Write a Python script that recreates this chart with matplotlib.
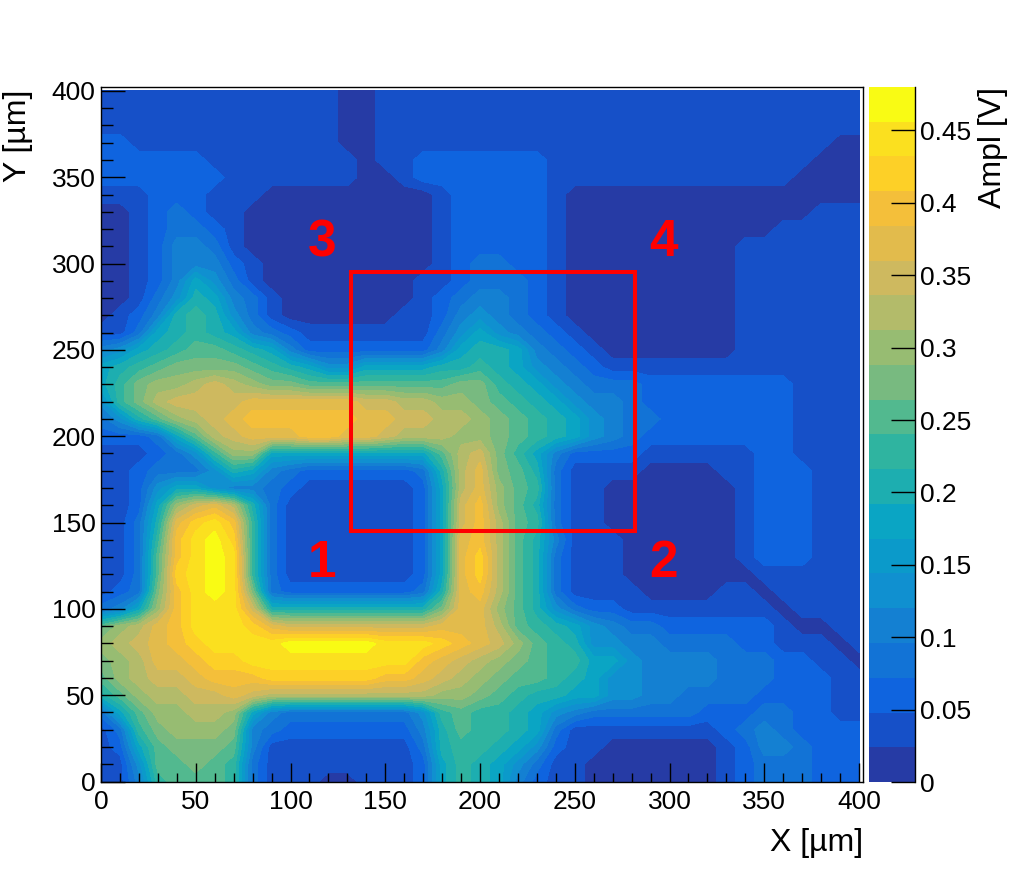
# plot.py
import numpy as np
import matplotlib

matplotlib.use("Agg")
import matplotlib.pyplot as plt
from matplotlib.patches import Rectangle

plt.rcParams["font.family"] = ["Liberation Sans", "DejaVu Sans"]

# band colours of the palette, bottom to top
BAND_COLORS = [
    "#263ba5", "#1650c8", "#0f64df", "#1273d6", "#1480d2",
    "#1090d0", "#0b9aca", "#0aa5c4", "#1daeb0", "#2fb4a0",
    "#52b98f", "#78ba80", "#97bc72", "#b3bb6a", "#ceb95f",
    "#e2bb4c", "#f4bf3a", "#fdd027", "#fbe01f", "#f9fb14",
]
BAND_WIDTH = 0.024  # V
BAND_KEYS = "0123456789abcdefghij"

x_um = list(range(0, 401, 10))
y_um = list(range(400, -1, -10))

# band at each 10 um node, rows top (400) to bottom (0)
ampl_bands = [
    "1111111111 1110011111 1111111111 1111111111 1",
    "1111111111 1110011111 1111111111 1111111111 1",
    "1111111111 1110011111 1111111111 1111111111 1",
    "2211111111 1110011111 1111111111 1111111110 0",
    "2222221111 1111011222 2222111111 1111111100 0",
    "2222222111 1111001222 2222111111 1111111000 0",
    "1112221110 0000000012 2222100000 0000000000 0",
    "0012321100 0000000012 2222100000 0000000011 1",
    "0012332100 0000000012 2222100000 0000001111 1",
    "0012443100 0000000012 2222100000 0000111111 1",
    "0012444210 0000000012 3322100000 0000111111 1",
    "0012475310 0000000112 3332100000 0000111111 1",
    "0013587431 0000000123 4432100000 0000111111 1",
    "0124898531 0000001124 5432100000 0000111111 1",
    "1137898743 2111111135 7543210000 0000111111 1",
    "45789aa987 4222222247 8874321000 0000111111 1",
    "789abbbba9 8755777788 9875432111 1111111111 1",
    "79bccdedcb baaaaaaaab b987543332 2222222111 1",
    "59bdeeeeff ffffeeddcc ba98754432 2222222111 1",
    "358acdefgg ggggffeedd cba9875433 2222222111 1",
    "22237adeff fggffedddc cba9875432 2222222111 1",
    "1112359cc7 77777777ad eb97422221 1111122111 1",
    "1123335874 322222238d fba8311110 0001122211 1",
    "1125775443 211111127d fca9311000 0000122211 1",
    "1127cefd83 111111127e gca8311000 0000122211 1",
    "1138fhig93 111111127e gda9311000 0000122211 1",
    "1139gijh93 111111127f gda8411100 0000122211 1",
    "113agiji93 111111127f hda8311100 0000122211 1",
    "113ahiji93 111111127f hda8311100 0000011111 1",
    "123bgijib3 222222238f gda8311110 0001101111 1",
    "347cgiiie8 88888888bf fca8532211 1111110111 1",
    "acdfgiiihf eeeeeeeeff fda9875433 2222221001 1",
    "cdefghiiii jjjjjiiihg feca985544 3333221110 1",
    "bcdffghhii iiiiiiigfe dcba997754 4443332211 0",
    "acdeefgggh hhhhhggfed cbaa987554 4443332221 1",
    "8acddeefed ddddddddcc ba98877554 4333322221 1",
    "37accddc74 333333359a 9987543333 3322233221 1",
    "139bcccb43 222222248a 9987311111 1112343222 2",
    "127abbba41 1111111389 9875211000 0001244322 2",
    "115aaba931 1111111279 8753110000 0001233322 2",
    "1149aaa931 1100111279 8742110000 0001233322 2",
]

cbar_ticks = [0, 0.05, 0.1, 0.15, 0.2, 0.25, 0.3, 0.35, 0.4, 0.45]
cbar_labels = ["0", "0.05", "0.1", "0.15", "0.2", "0.25", "0.3", "0.35", "0.4", "0.45"]
axis_ticks = [0, 50, 100, 150, 200, 250, 300, 350, 400]
minor_ticks = list(range(0, 401, 10))

box_x = [132, 282]
box_y = [145, 295]
pad_labels = ["1", "2", "3", "4"]
pad_x = [116.5, 297, 116.5, 297]
pad_y = [126.5, 126.5, 312, 312]

W, H = 1016, 869


def px_rect(left, top, right, bottom):
    return [left / W, 1 - bottom / H, (right - left) / W, (bottom - top) / H]


def read_bands(rows):
    grid = [[BAND_KEYS.index(c) for c in row.replace(" ", "")] for row in rows]
    return (np.array(grid) + 0.5) * BAND_WIDTH


fig = plt.figure(figsize=(W / 100, H / 100), dpi=100)
ax = fig.add_axes(px_rect(101, 87, 863, 781.5))

edges = [i * BAND_WIDTH for i in range(len(BAND_COLORS) + 1)]
cs = ax.contourf(x_um, y_um, read_bands(ampl_bands), levels=edges, colors=BAND_COLORS)

ax.set_xlim(0, 402.1)
ax.set_ylim(0, 402.3)
ax.set_xticks(axis_ticks)
ax.set_yticks(axis_ticks)
ax.set_xticks(minor_ticks, minor=True)
ax.set_yticks(minor_ticks, minor=True)
ax.tick_params(axis="x", which="major", direction="in", length=13.7, width=1, labelsize=19, pad=6)
ax.tick_params(axis="x", which="minor", direction="in", length=6.8, width=1)
ax.tick_params(axis="y", which="major", direction="in", length=17.3, width=1, labelsize=19, pad=4)
ax.tick_params(axis="y", which="minor", direction="in", length=8.6, width=1)
for spine in ax.spines.values():
    spine.set_linewidth(1)
    spine.set_zorder(5)

ax.add_patch(Rectangle((box_x[0], box_y[0]), box_x[1] - box_x[0], box_y[1] - box_y[0],
                       fill=False, edgecolor="#ff0000", linewidth=2.9, joinstyle="miter", zorder=4))
for label, px, py in zip(pad_labels, pad_x, pad_y):
    ax.text(px, py, label, color="#ff0000", fontsize=37, fontweight="bold",
            ha="center", va="center", zorder=4)

fig.text(863 / W, 1 - 843 / H, "X [\u00b5m]", fontsize=23, ha="right", va="center")
fig.text(18 / W, 1 - 90 / H, "Y [\u00b5m]", fontsize=23, rotation=90, ha="center", va="top")

cax = fig.add_axes(px_rect(868.5, 87, 914.5, 782))
cb = fig.colorbar(cs, cax=cax, ticks=cbar_ticks, drawedges=False)
cb.outline.set_visible(False)
cax.minorticks_off()
cax.spines["right"].set_visible(True)
cax.spines["right"].set_linewidth(1)
cax.set_yticks(cbar_ticks, cbar_labels)
cax.tick_params(axis="y", direction="in", length=17.3, width=1, labelsize=19, pad=4)
fig.text(993 / W, 1 - 87 / H, "Ampl [V]", fontsize=23, rotation=90, ha="center", va="top")

fig.savefig("out.png", dpi=100)
